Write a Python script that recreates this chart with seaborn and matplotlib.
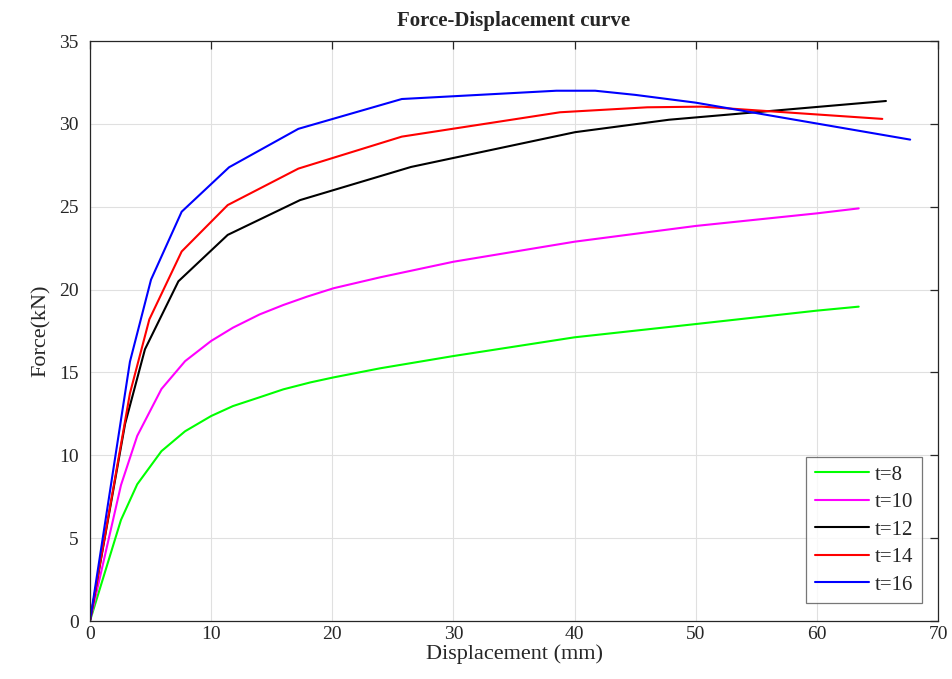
import matplotlib
matplotlib.use("Agg")
import matplotlib.pyplot as plt
import pandas as pd
import seaborn as sns

# Displacement (mm) and force (kN) for each thickness
disp_t8 = [0, 2.56, 3.9, 5.9, 7.85, 10.0, 11.8, 14.0, 15.96, 18.2, 20.1, 23.95, 30, 40, 50, 60, 63.45]
force_t8 = [0, 6.1, 8.25, 10.25, 11.45, 12.37, 12.97, 13.5, 13.98, 14.4, 14.7, 15.25, 15.99, 17.12, 17.92, 18.73, 18.97]

disp_t10 = [0, 2.56, 3.9, 5.9, 7.85, 10.0, 11.8, 14.0, 15.96, 17.9, 20.1, 23.95, 30, 40, 50, 60, 63.45]
force_t10 = [0, 8.2, 11.17, 14.0, 15.68, 16.9, 17.7, 18.5, 19.07, 19.57, 20.08, 20.74, 21.68, 22.89, 23.84, 24.6, 24.9]

disp_t12 = [0, 2.9, 4.54, 7.3, 11.37, 17.34, 26.5, 40.05, 47.8, 65.7]
force_t12 = [0, 11.9, 16.4, 20.5, 23.3, 25.4, 27.4, 29.5, 30.25, 31.38]

disp_t14 = [0, 3.3, 4.9, 7.57, 11.37, 17.2, 25.74, 38.8, 46.0, 50.5, 65.4]
force_t14 = [0, 13.74, 18.2, 22.3, 25.1, 27.3, 29.23, 30.7, 31.0, 31.04, 30.3]

disp_t16 = [0, 3.3, 5.04, 7.57, 11.48, 17.2, 25.74, 38.5, 41.7, 45.0, 50.0, 67.7]
force_t16 = [0, 15.65, 20.6, 24.7, 27.38, 29.7, 31.5, 32.0, 32.0, 31.75, 31.28, 29.05]

labels = ["t=8", "t=10", "t=12", "t=14", "t=16"]
colors = ["#00ff00", "#ff00ff", "#000000", "#ff0000", "#0000ff"]

series = [(disp_t8, force_t8), (disp_t10, force_t10), (disp_t12, force_t12),
          (disp_t14, force_t14), (disp_t16, force_t16)]
frames = []
for lab, (d, f) in zip(labels, series):
    frames.append(pd.DataFrame({"Displacement": d, "Force": f, "Thickness": lab}))
df = pd.concat(frames, ignore_index=True)

sns.set_style("white")
plt.rcParams["font.family"] = ["Liberation Serif", "DejaVu Serif"]

fig = plt.figure(figsize=(9.53, 6.79), dpi=100)
ax = fig.add_axes([0.0944, 0.0854, 0.8899, 0.8542])

sns.lineplot(data=df, x="Displacement", y="Force", hue="Thickness", hue_order=labels,
             palette=dict(zip(labels, colors)), sort=False, estimator=None,
             linewidth=1.5, ax=ax)

ax.set_xlim(0, 70)
ax.set_ylim(0, 35)
ax.set_xticks(range(0, 71, 10))
ax.set_yticks(range(0, 36, 5))
ax.grid(True, color="#e0e0e0", linewidth=0.8)
ax.tick_params(direction="in", length=6, width=0.9, colors="#262626",
               labelsize=14, top=True, right=True, labelcolor="#262626")
ax.tick_params(axis="y", pad=8)
for s in ax.spines.values():
    s.set_color("#262626")
    s.set_linewidth(0.9)

ax.set_title("Force-Displacement curve", fontsize=15, fontweight="bold", pad=11)
ax.set_xlabel("Displacement (mm)", fontsize=16, labelpad=1, color="#262626")
ax.set_ylabel("Force(kN)", fontsize=16, labelpad=6, color="#262626")

leg = ax.legend(loc="lower right", bbox_to_anchor=(0.981, 0.031), fontsize=15,
                handlelength=2.6, frameon=True, fancybox=False, borderpad=0.4,
                labelspacing=0.38, handletextpad=0.3, borderaxespad=0)
leg.get_frame().set_edgecolor("#555555")
leg.get_frame().set_linewidth(0.9)

fig.savefig("out.png", dpi=100)
